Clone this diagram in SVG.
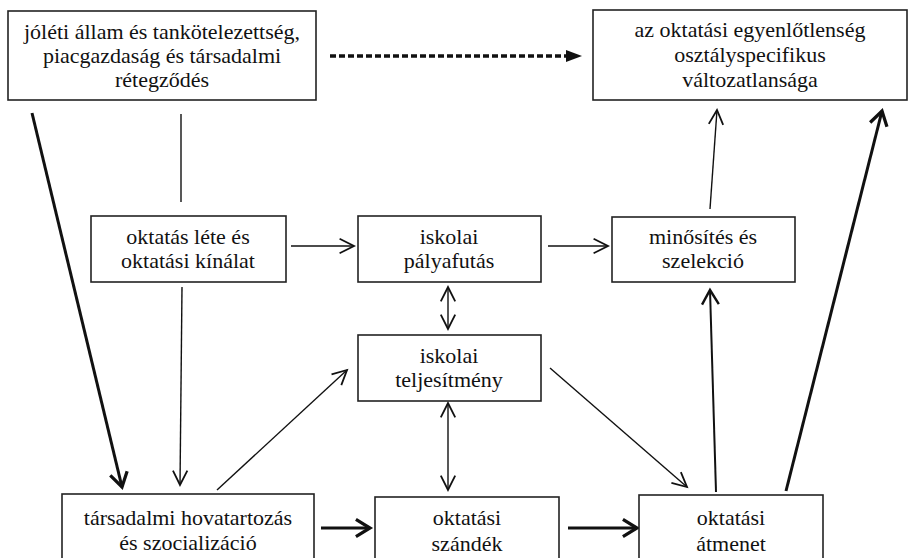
<svg xmlns="http://www.w3.org/2000/svg" width="915" height="558" viewBox="0 0 915 558">
<style>
.box{fill:#fff;stroke:#222;stroke-width:1.6}
.t{font-family:"Liberation Serif","Times New Roman",serif;font-size:22px;fill:#111;text-anchor:middle}
.thin{stroke:#111;stroke-width:1.4;fill:none}
.mid{stroke:#111;stroke-width:2;fill:none}
.thick{stroke:#111;stroke-width:3;fill:none}
</style>
<defs>
<marker id="ah" markerUnits="userSpaceOnUse" markerWidth="24" markerHeight="24" viewBox="-14 -10 16 20" refX="0" refY="0" orient="auto-start-reverse">
<path d="M-12,-6 L0,0 L-12,6" fill="none" stroke="#111" stroke-width="1.5"/>
</marker>
<marker id="ahm" markerUnits="userSpaceOnUse" markerWidth="24" markerHeight="24" viewBox="-14 -10 16 20" refX="0" refY="0" orient="auto">
<path d="M-12,-7 L0,0 L-12,7" fill="none" stroke="#111" stroke-width="2"/>
</marker>
<marker id="ahb" markerUnits="userSpaceOnUse" markerWidth="26" markerHeight="26" viewBox="-16 -12 18 24" refX="0" refY="0" orient="auto">
<path d="M-13,-8 L0,0 L-13,8" fill="none" stroke="#111" stroke-width="3"/>
</marker>
</defs>

<g id="connectors">
<line class="thin" x1="330" y1="56" x2="568" y2="56" style="stroke-width:3.5;stroke-dasharray:6 3"/>
<path d="M566,50 L582,56 L566,62 Z" fill="#111"/>
<line class="thin" x1="181" y1="114" x2="181" y2="202"/>
<line class="thin" x1="182" y1="287" x2="180" y2="485" marker-end="url(#ah)"/>
<line class="thick" x1="32" y1="113" x2="122" y2="487" marker-end="url(#ahb)"/>
<line class="thin" x1="291" y1="246" x2="354" y2="246" marker-end="url(#ah)"/>
<line class="thin" x1="548" y1="246" x2="608" y2="246" marker-end="url(#ah)"/>
<line class="thin" x1="448" y1="287" x2="448" y2="329" marker-start="url(#ah)" marker-end="url(#ah)"/>
<line class="thin" x1="448" y1="403" x2="448" y2="490" marker-start="url(#ah)" marker-end="url(#ah)"/>
<line class="thin" x1="217" y1="490" x2="347" y2="370" marker-end="url(#ah)"/>
<line class="thin" x1="550" y1="368" x2="687" y2="487" marker-end="url(#ah)"/>
<line class="thin" x1="710" y1="209" x2="717" y2="110" marker-end="url(#ah)"/>
<line class="mid" x1="716" y1="492" x2="710" y2="290" marker-end="url(#ahm)"/>
<line class="thick" x1="786" y1="491" x2="882" y2="111" marker-end="url(#ahb)"/>
<line class="thick" x1="321" y1="528" x2="370" y2="528" marker-end="url(#ahb)"/>
<line class="thick" x1="568" y1="528" x2="637" y2="528" marker-end="url(#ahb)"/>
</g>

<g id="n-joleti">
<rect class="box" x="8" y="11" width="308" height="89"/>
<text class="t" x="162" y="39">jóléti állam és tankötelezettség,</text>
<text class="t" x="162" y="63">piacgazdaság és társadalmi</text>
<text class="t" x="162" y="87">rétegződés</text>
</g>
<g id="n-egyenlotlenseg">
<rect class="box" x="593" y="10" width="314" height="90"/>
<text class="t" x="750" y="37">az oktatási egyenlőtlenség</text>
<text class="t" x="750" y="62">osztályspecifikus</text>
<text class="t" x="750" y="87">változatlansága</text>
</g>
<g id="n-oktatas-lete">
<rect class="box" x="91" y="216" width="195" height="66"/>
<text class="t" x="188" y="244">oktatás léte és</text>
<text class="t" x="188" y="268">oktatási kínálat</text>
</g>
<g id="n-palyafutas">
<rect class="box" x="358" y="216" width="183" height="66"/>
<text class="t" x="449" y="244">iskolai</text>
<text class="t" x="449" y="268">pályafutás</text>
</g>
<g id="n-minosites">
<rect class="box" x="612" y="217" width="183" height="65"/>
<text class="t" x="703" y="244">minősítés és</text>
<text class="t" x="703" y="268">szelekció</text>
</g>
<g id="n-teljesitmeny">
<rect class="box" x="358" y="335" width="183" height="66"/>
<text class="t" x="449" y="363">iskolai</text>
<text class="t" x="449" y="387">teljesítmény</text>
</g>
<g id="n-tarsadalmi">
<rect class="box" x="62" y="494" width="252" height="80"/>
<text class="t" x="188" y="525">társadalmi hovatartozás</text>
<text class="t" x="188" y="550">és szocializáció</text>
</g>
<g id="n-szandek">
<rect class="box" x="375" y="497" width="184" height="80"/>
<text class="t" x="467" y="525">oktatási</text>
<text class="t" x="467" y="551">szándék</text>
</g>
<g id="n-atmenet">
<rect class="box" x="639" y="495" width="184" height="80"/>
<text class="t" x="731" y="525">oktatási</text>
<text class="t" x="731" y="551">átmenet</text>
</g>
</svg>
